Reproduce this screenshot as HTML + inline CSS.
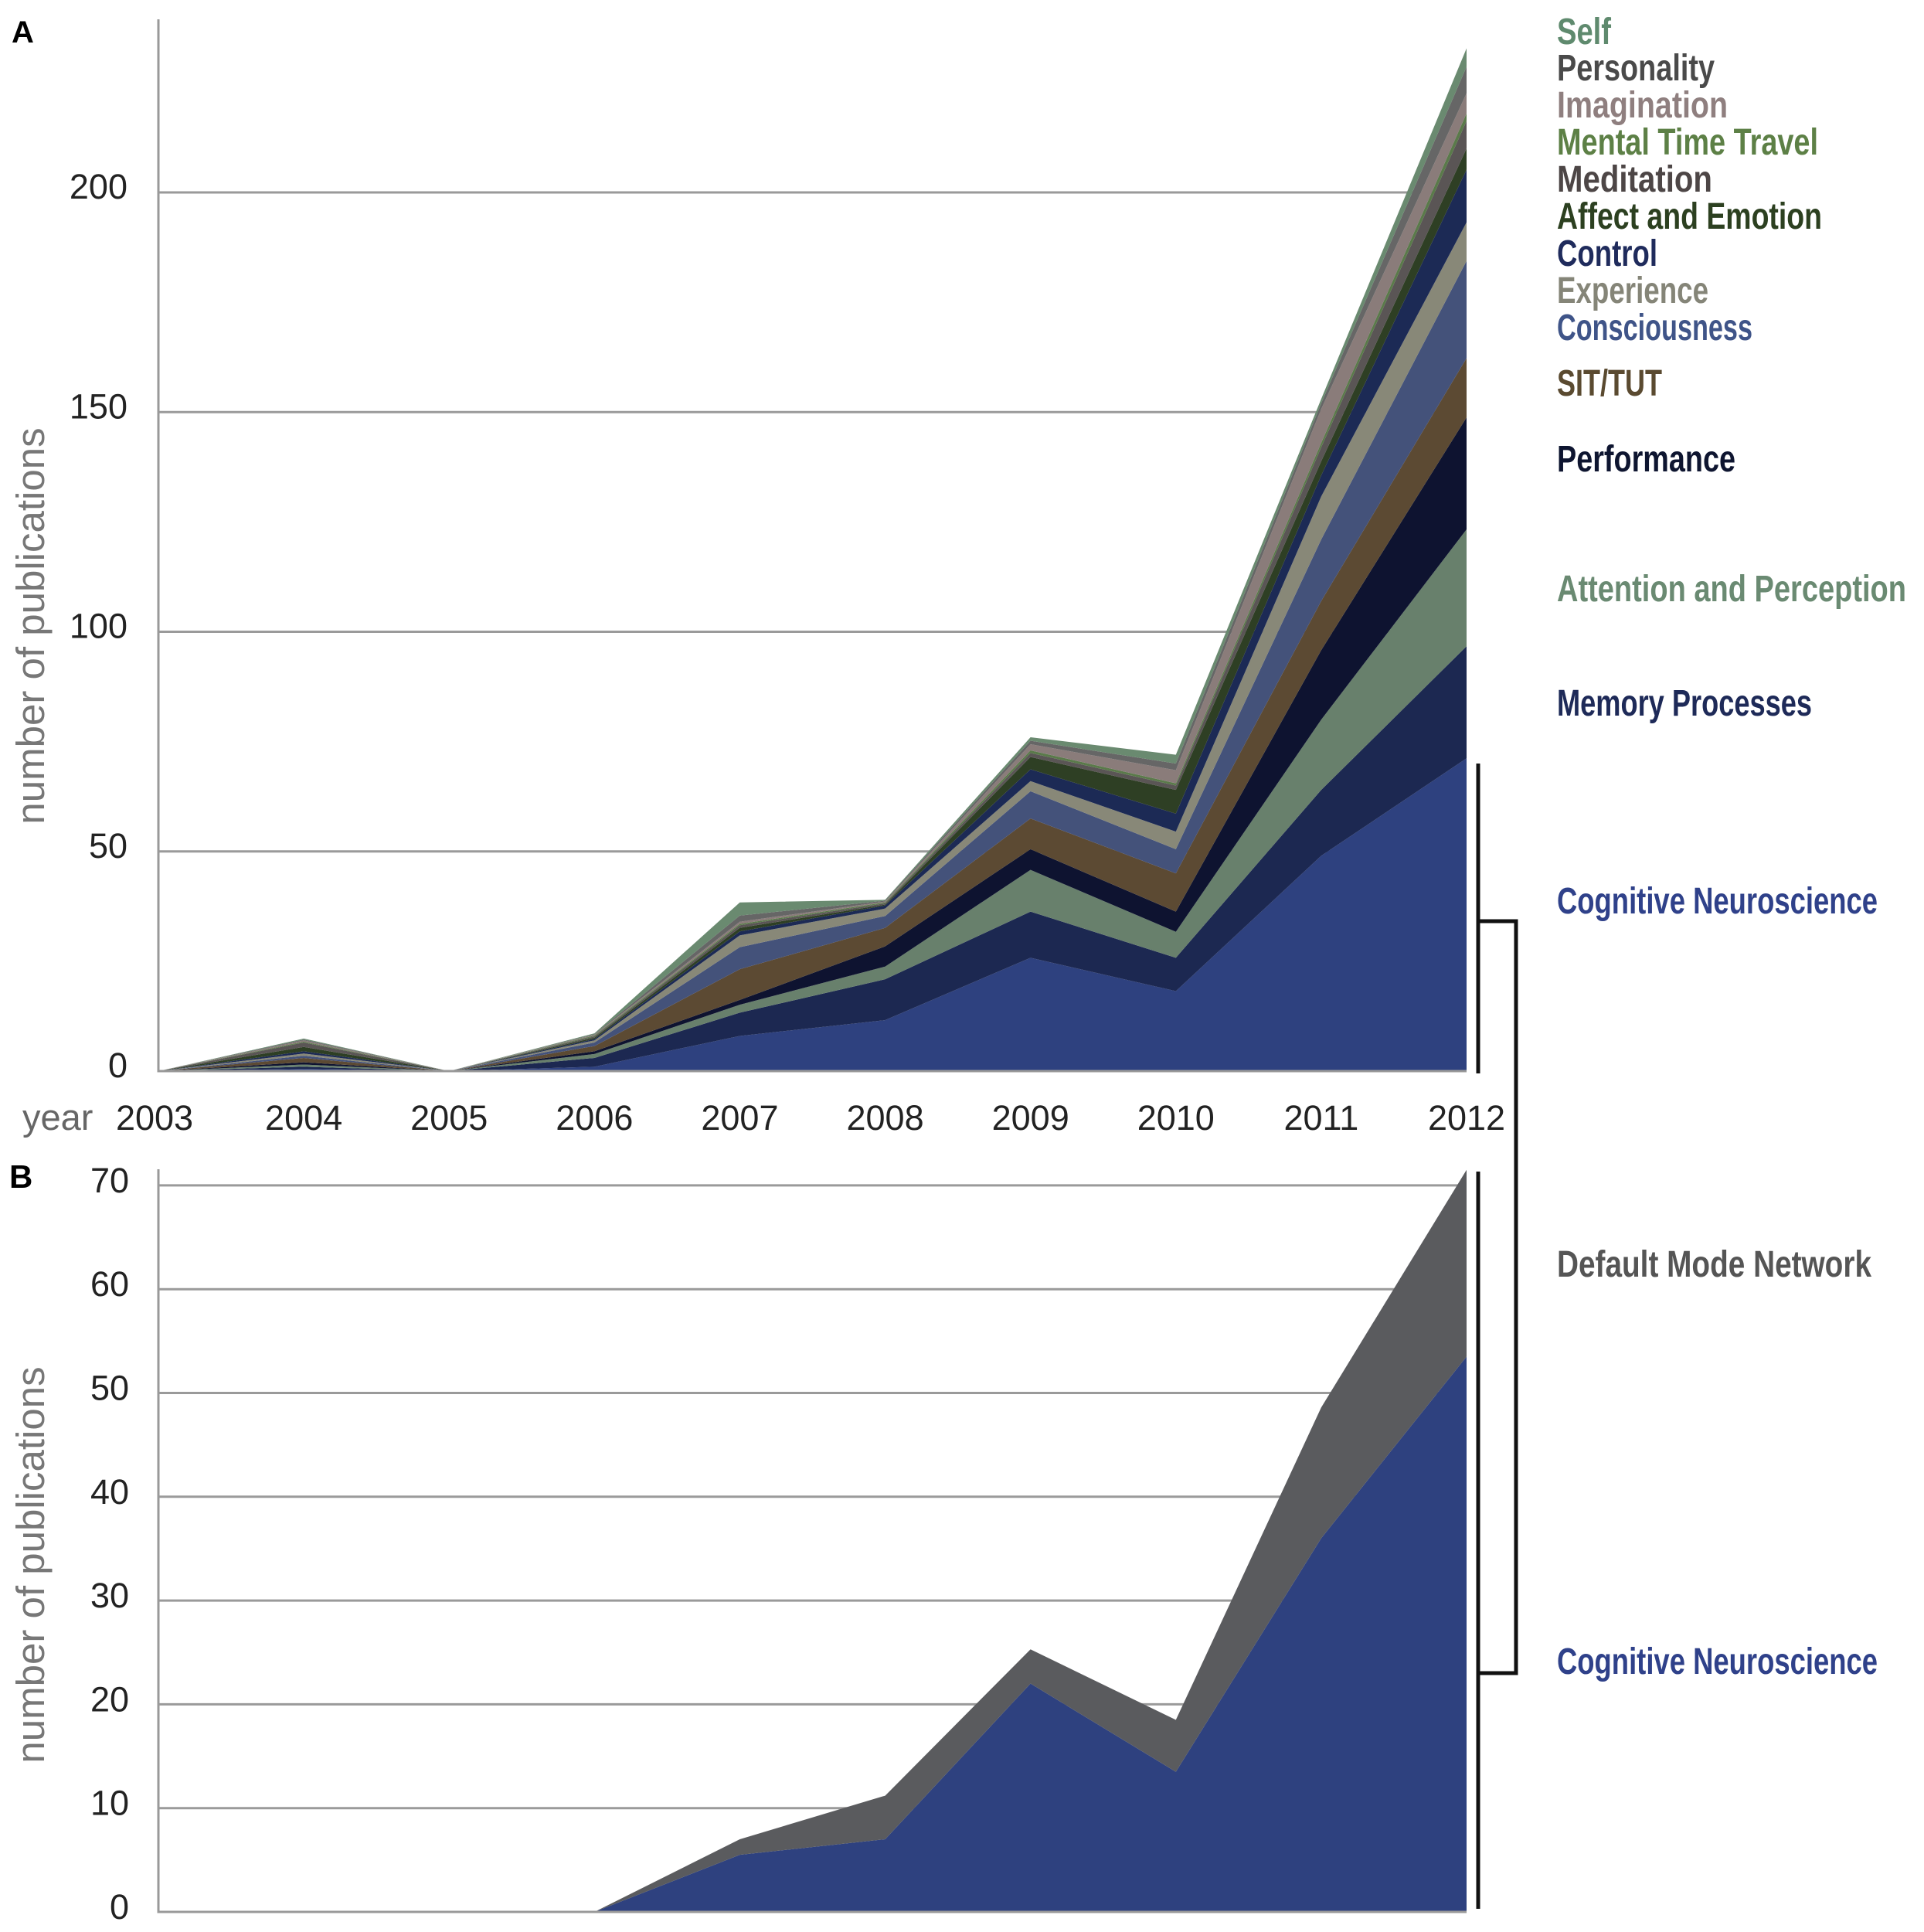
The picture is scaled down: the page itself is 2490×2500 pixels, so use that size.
<!DOCTYPE html>
<html><head><meta charset="utf-8"><style>
html,body{margin:0;padding:0;background:#fff;}
svg{display:block;}
</style></head><body>
<svg id="chart" width="2490" height="2500" xmlns="http://www.w3.org/2000/svg" font-family="Liberation Sans, sans-serif">
<g id="panelA"></g>
<g id="panelB"></g>
<g id="legend"></g>
<g id="brackets" stroke="#111" stroke-width="5" fill="none">
<path d="M1913 988 V1389"/>
<path d="M1913 1516 V2470"/>
<path d="M1913 1192 H1962 V2165 H1913"/>
</g>
</svg>
<script>
const years = [2003,2004,2005,2006,2007,2008,2009,2010,2011,2012];
const seriesNamesA = ["Cognitive Neuroscience","Memory Processes","Attention and Perception","Performance","SIT/TUT","Consciousness","Experience","Control","Affect and Emotion","Meditation","Mental Time Travel","Imagination","Personality","Self"];
const cogNeuroA   = [0,0.5,0,1,8,11.6,25.8,18.2,49,71.2];
const memoryA     = [0,0.5,0,2,5.3,9.3,10.5,7.6,15,25.5];
const attentionA  = [0,0.5,0,0.9,1.8,2.9,9.5,5.9,16,26.6];
const performanceA= [0,0.5,0,0.6,1.1,4.6,4.7,4.6,15.8,25.5];
const sitTutA     = [0,1,0,1.2,7,4.2,7,8.7,11.2,13.5];
const consciousA  = [0,0.5,0,0.8,5,2.7,6.2,5.5,14,22.1];
const experienceA = [0,0.5,0,0.5,2.7,1.7,2.3,4,9.8,8.8];
const controlA    = [0,0.5,0,0.3,0.9,0.7,2.7,4.1,4.8,12];
const affectA     = [0,1,0,0.3,0.8,0.2,2.8,5.4,3.2,4.8];
const meditationA = [0,1,0,0.3,0.6,0.3,0.9,1,3.2,6.3];
const mttA        = [0,0.2,0,0.2,0.3,0.2,0.6,0.5,1,1.7];
const imaginationA= [0,0.3,0,0.2,0.5,0.2,1.4,3,7.7,4.6];
const personalityA= [0,0.2,0,0.1,1.4,0.2,0.8,1.5,1.3,6];
const selfA       = [0,0.2,0,0.2,3,0.2,0.8,2,1,4.2];
const ticksA = [0,50,100,150,200];
const cogNeuroB = [0,0,0,0,5.5,7,22,13.5,36,53.5];
const dmnB      = [0,0,0,0,1.5,4.2,3.3,5,12.6,18];
const ticksB = [0,10,20,30,40,50,60,70];

const seriesA = [cogNeuroA,memoryA,attentionA,performanceA,sitTutA,consciousA,experienceA,controlA,affectA,meditationA,mttA,imaginationA,personalityA,selfA];
const colorsA = ["#2e417f","#1c2851","#68806c","#0e1330","#5c4a33","#44527a","#888878","#1c2a55","#2e3f24","#5a5555","#5a7a4a","#8a7c7a","#666666","#6a8a70"];
const NS="http://www.w3.org/2000/svg";
function mk(tag, attrs, parent){const e=document.createElementNS(NS,tag);for(const k in attrs)e.setAttribute(k,attrs[k]);parent.appendChild(e);return e;}
const x0=205, x1=1898;
function xS(i){return x0+(x1-x0)*i/(years.length-1);}
const yA0=1386, yAk=5.685;
function yA(v){return yA0-v*yAk;}
const yB0=2474, yBk=13.43;
function yB(v){return yB0-v*yBk;}

const gA=document.getElementById('panelA');
ticksA.forEach(t=>{
  const l=mk('line',{x1:x0,x2:x1,y1:yA(t),y2:yA(t),stroke:'#9a9a9a','stroke-width':3},gA);
  
  
  const tx=mk('text',{x:165,y:yA(t)+8,'text-anchor':'end','font-size':45,fill:'#222'},gA);
  tx.textContent=t;
  
  
});
let base=years.map(()=>0);
seriesA.forEach((s,k)=>{
  const top=base.map((b,i)=>b+s[i]);
  let d='M'+xS(0)+' '+yA(top[0]);
  for(let i=1;i<years.length;i++) d+=' L'+xS(i)+' '+yA(top[i]);
  for(let i=years.length-1;i>=0;i--) d+=' L'+xS(i)+' '+yA(base[i]);
  const p=mk('path',{d:d+'Z',fill:colorsA[k]},gA);
  
  
  base=top;
});
const axA=mk('path',{d:`M${x0} 25 V${yA0} H${x1}`,stroke:'#999',fill:'none','stroke-width':3},gA);


years.forEach((y,i)=>{
  const t=mk('text',{x:xS(i)-(i===0?5:0),y:1462,'text-anchor':'middle','font-size':45,fill:'#222'},gA);
  t.textContent=y;
  
  
});
const yl=mk('text',{x:29,y:1462,'font-size':47,fill:'#666'},gA);yl.textContent='year';


const ytA=mk('text',{x:0,y:0,transform:'translate(57,810) rotate(-90)','text-anchor':'middle','font-size':51,fill:'#777'},gA);ytA.textContent='number of publications';


const la=mk('text',{x:15,y:55,'font-size':40,'font-weight':'bold',fill:'#000'},gA);la.textContent='A';



const gB=document.getElementById('panelB');
ticksB.forEach(t=>{
  const l=mk('line',{x1:x0,x2:x1,y1:yB(t),y2:yB(t),stroke:'#9a9a9a','stroke-width':3},gB);
  
  
  const tx=mk('text',{x:167,y:yB(t)+9,'text-anchor':'end','font-size':45,fill:'#222'},gB);
  tx.textContent=t;
  
  
});
const seriesB=[cogNeuroB,dmnB], colorsB=["#2e417f","#5a5b5e"], namesB=["cognitive-neuroscience","default-mode-network"];
let baseB=years.map(()=>0);
seriesB.forEach((s,k)=>{
  const top=baseB.map((b,i)=>b+s[i]);
  let d='M'+xS(0)+' '+yB(top[0]);
  for(let i=1;i<years.length;i++) d+=' L'+xS(i)+' '+yB(top[i]);
  for(let i=years.length-1;i>=0;i--) d+=' L'+xS(i)+' '+yB(baseB[i]);
  const p=mk('path',{d:d+'Z',fill:colorsB[k]},gB);
  
  
  baseB=top;
});
const axB=mk('path',{d:`M${x0} 1513 V${yB0} H${x1}`,stroke:'#999',fill:'none','stroke-width':3},gB);


const ytB=mk('text',{x:0,y:0,transform:'translate(57,2025) rotate(-90)','text-anchor':'middle','font-size':51,fill:'#777'},gB);ytB.textContent='number of publications';


const lb=mk('text',{x:12,y:1537,'font-size':42,'font-weight':'bold',fill:'#000'},gB);lb.textContent='B';



const legendLabels=["Self","Personality","Imagination","Mental Time Travel","Meditation","Affect and Emotion","Control","Experience","Consciousness","SIT/TUT","Performance","Attention and Perception","Memory Processes","Cognitive Neuroscience","Default Mode Network","Cognitive Neuroscience"];
const legendColors=["#5f8a6e","#4a4a4a","#8f7f7f","#5d8046","#4d4646","#2c4020","#1f2b5c","#858578","#3f5488","#5a4a30","#0e1530","#6a8a72","#1e2a58","#2f418a","#555555","#2f418a"];
const legendBaselines=[57,104,152,200,248,296,344,392,440,512,610,778,926,1182,1652,2166];
const legendWidths=[70,204,221,338,201,343,130,196,253,136,231,452,330,415,407,415];
const gL=document.getElementById('legend');
legendLabels.forEach((s,i)=>{
  const t=mk('text',{x:2015,y:legendBaselines[i],'font-size':48,'font-weight':'bold',fill:legendColors[i],textLength:legendWidths[i],lengthAdjust:'spacingAndGlyphs','font-family':'Liberation Sans Narrow, Liberation Sans, sans-serif'},gL);
  t.textContent=s;
  
  
});
</script>
</body></html>
